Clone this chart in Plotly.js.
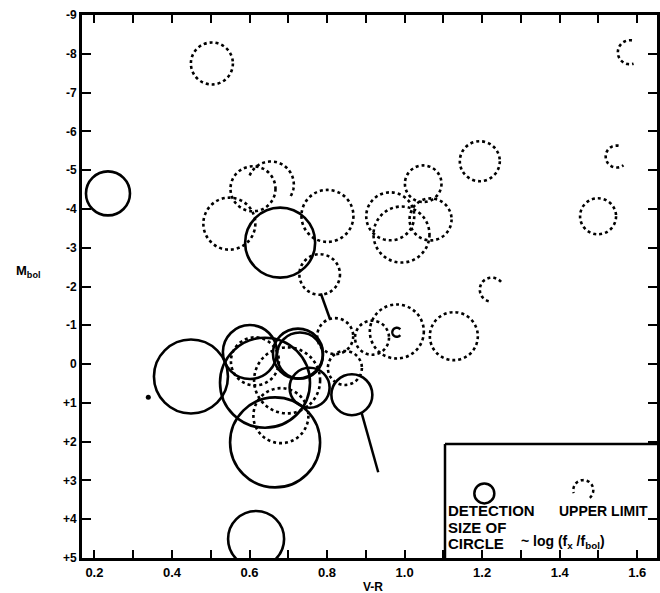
<!DOCTYPE html>
<html><head><meta charset="utf-8">
<script src="https://cdn.plot.ly/plotly-3.0.1.min.js"></script>
<style>html,body{margin:0;padding:0;background:#fff}#chart{width:660px;height:593px}</style>
</head><body><div id="chart"></div>
<script>
// ---- DATA ----
// Detections (solid circles): V-R, Mbol, circle size (~ log fx/fbol, drawn as radius in px)
const detX    = [0.235, 0.679, 0.449, 0.601, 0.640, 0.725, 0.730, 0.666, 0.755, 0.864, 0.617];
const detY    = [-4.40, -3.13, 0.32, -0.31, 0.48, -0.27, -0.22, 2.02, 0.61, 0.79, 4.51];
const detSize = [22, 35, 37, 27, 45, 25, 23, 45, 20, 20.5, 28];
// Upper limits (dotted circles)
const ulX    = [0.503, 1.581, 1.547, 1.499, 1.194, 1.225, 1.048, 0.963, 1.067, 0.992, 0.801, 0.548, 0.609, 0.655, 0.781, 0.821, 0.980, 0.916, 1.127, 0.697, 0.846, 0.614, 0.681];
const ulY    = [-7.75, -8.04, -5.35, -3.81, -5.23, -1.92, -4.65, -3.81, -3.73, -3.34, -3.82, -3.62, -4.52, -4.63, -2.31, -0.72, -0.84, -0.68, -0.72, 0.42, 0.10, -0.07, 1.33];
const ulSize = [21, 12, 11, 18, 20, 12, 18.3, 24, 21, 28, 26, 26, 22.5, 23, 20.3, 18, 27, 17, 24, 33, 17, 24, 27.5];
// small marks
const tinyX = [0.980], tinyY = [-0.82];
const dotX = [0.339], dotY = [0.856];
// connecting segments
const segX = [[0.784, 0.808], [0.889, 0.932]];
const segY = [[-1.82, -1.15], [1.25, 2.79]];
// ticks
const xTickVals = [0.2,0.3,0.4,0.5,0.6,0.7,0.8,0.9,1.0,1.1,1.2,1.3,1.4,1.5,1.6];
const xTickText = ['0.2','','0.4','','0.6','','0.8','','1.0','','1.2','','1.4','','1.6'];
const yTickVals = [-9,-8,-7,-6,-5,-4,-3,-2,-1,0,1,2,3,4,5];
const yTickText = ['-9','-8','-7','-6','-5','-4','-3','-2','-1','0','+1','+2','+3','+4','+5'];

// ---- STYLE ----
const partialUL = {1:[80,290], 2:[80,310], 5:[40,260], 13:[-30,160]};
const DOT = '3px,3px';

function arcPath(r, a0, a1){
  let s = '';
  for(let a=a0; a<=a1+0.001; a+=4){
    const t = a*Math.PI/180;
    s += (s ? ' L ' : 'M ') + (r*Math.cos(t)).toFixed(2) + ',' + (r*Math.sin(t)).toFixed(2);
  }
  return s;
}
function circ(x, y, r, dash, width, arc, xref, yref){
  const base = {xref: xref||'x', yref: yref||'y', xsizemode:'pixel', ysizemode:'pixel',
    xanchor:x, yanchor:y, line:{color:'#000', width:width, dash:dash}, fillcolor:'rgba(0,0,0,0)'};
  if(arc){ return Object.assign(base, {type:'path', path: arcPath(r, arc[0], arc[1])}); }
  return Object.assign(base, {type:'circle', x0:-r, x1:r, y0:-r, y1:r});
}

const shapes = [];
detX.forEach((x,i)=>shapes.push(circ(x, detY[i], detSize[i], 'solid', 2.6)));
ulX.forEach((x,i)=>shapes.push(circ(x, ulY[i], ulSize[i], DOT, 2.6, partialUL[i])));
tinyX.forEach((x,i)=>shapes.push(circ(x, tinyY[i], 4.5, 'solid', 2.4, [40,320])));

// legend box (paper coords)
shapes.push({type:'line', xref:'paper', yref:'paper', x0:0.6313, x1:0.6313, y0:0, y1:0.21, line:{color:'#000', width:2.5}});
shapes.push({type:'line', xref:'paper', yref:'paper', x0:0.6313, x1:1, y0:0.21, y1:0.21, line:{color:'#000', width:2.5}});
shapes.push(circ(0.6997, 0.119, 10, 'solid', 2.5, null, 'paper', 'paper'));
shapes.push(circ(0.8718, 0.125, 10, DOT, 2.5, [-50,200], 'paper', 'paper'));

const traces = [];
segX.forEach((sx,i)=>traces.push({x:sx, y:segY[i], mode:'lines', line:{color:'#000', width:2.5}, hoverinfo:'skip', showlegend:false}));
traces.push({x:dotX, y:dotY, mode:'markers', marker:{color:'#000', size:5}, showlegend:false});

const F = 'Liberation Sans, Arial, sans-serif';
const ann = (text, x, y, size, xanchor) => ({text, x, y, xref:'paper', yref:'paper', showarrow:false,
  xanchor: xanchor||'left', yanchor:'middle', font:{family:F, size:size, color:'#000', weight:'bold'}});

const layout = {
  width:660, height:593,
  margin:{l:82, r:3, t:15, b:35},
  paper_bgcolor:'#fff', plot_bgcolor:'#fff',
  showlegend:false,
  xaxis:{range:[0.168, 1.651], tickvals:xTickVals, ticktext:xTickText, ticks:'inside', ticklen:8, tickwidth:2,
    tickcolor:'#000', showline:true, linewidth:3, linecolor:'#000', mirror:'allticks', showgrid:false, zeroline:false,
    tickfont:{family:F, size:13, color:'#000', weight:'bold'}},
  yaxis:{range:[5, -9], tickvals:yTickVals, ticktext:yTickText, ticks:'inside', ticklen:9, tickwidth:2,
    tickcolor:'#000', showline:true, linewidth:3, linecolor:'#000', mirror:'allticks', showgrid:false, zeroline:false,
    tickfont:{family:F, size:12, color:'#000', weight:'bold'}},
  shapes: shapes,
  annotations:[
    ann('M<sub>bol</sub>', -0.094, 0.527, 13, 'center'),
    ann('V-R', 0.506, -0.053, 12, 'center'),
    ann('DETECTION', 0.633, 0.0866, 15),
    ann('UPPER LIMIT', 0.826, 0.0866, 14),
    ann('SIZE OF', 0.633, 0.0558, 15),
    ann('CIRCLE', 0.633, 0.0258, 15),
    ann('~ log (f<sub>x</sub> /f<sub>bol</sub>)', 0.76, 0.030, 14)
  ]
};
Plotly.newPlot('chart', traces, layout, {staticPlot:true});
</script></body></html>
